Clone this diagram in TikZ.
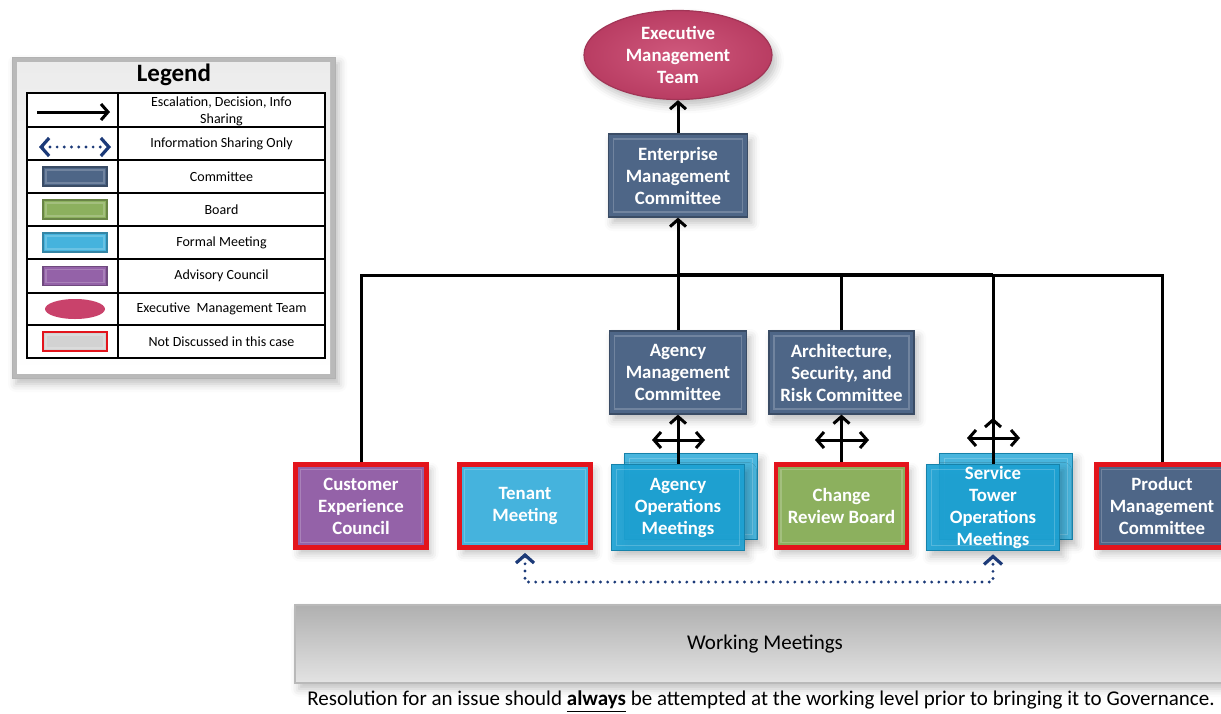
\documentclass[tikz,border=0pt]{standalone}
\usepackage{fontspec}
\setmainfont{Carlito}
\usetikzlibrary{arrows.meta,shapes.geometric,shadows.blur}

\definecolor{cmtblue}{HTML}{4E6687}
\definecolor{boardgreen}{HTML}{8CB05E}
\definecolor{meetcyan}{HTML}{45B3DD}
\definecolor{opscyan}{HTML}{1CA2D4}
\definecolor{advpurple}{HTML}{9462A8}
\definecolor{emtpink}{HTML}{C9426B}
\definecolor{discred}{HTML}{E3141C}
\definecolor{infonavy}{HTML}{1C3A78}

\tikzset{
    softshadow/.style={blur shadow={shadow xshift=2pt, shadow yshift=-3pt,
        shadow blur radius=4pt, shadow opacity=25}},
    bevel/.style={path picture={\draw[white, opacity=0.2, line width=0.8pt]
        ([shift={(#1,-#1)}]path picture bounding box.north west) rectangle
        ([shift={(-#1,#1)}]path picture bounding box.south east);}},
    bevel/.default=2.5pt,
    cmtfill/.style={fill=cmtblue, draw=cmtblue!75!black},
    boardfill/.style={fill=boardgreen, draw=boardgreen!75!black},
    formalfill/.style={fill=meetcyan, draw=meetcyan!75!black},
    advfill/.style={fill=advpurple, draw=advpurple!75!black},
    govbox/.style={rectangle, bevel, softshadow, minimum width=68.5pt, minimum height=41.5pt,
        inner sep=1pt, align=center, text=white, line width=0.6pt,
        font=\fontsize{9.4}{11}\selectfont\bfseries},
    committee/.style={govbox, cmtfill},
    board/.style={govbox, boardfill},
    formal/.style={govbox, formalfill},
    advisory/.style={govbox, advfill},
    opsmeet/.style={govbox, fill=opscyan, draw=opscyan!80!black, minimum width=66.5pt, minimum height=43pt},
    notdisc/.style={draw=discred, line width=2.4pt, minimum width=65.5pt, minimum height=41.5pt},
    swatch/.style={rectangle, bevel=1.5pt, line width=0.6pt, minimum width=32pt, minimum height=9.5pt, inner sep=0pt},
    legtext/.style={font=\fontsize{7}{8.5}\selectfont, align=center},
    link/.style={line width=1.5pt},
    flow/.style={line width=1.5pt, -{Straight Barb[length=3.5pt,width=8pt]}},
    both/.style={line width=1.5pt, {Straight Barb[length=3.5pt,width=8pt]}-{Straight Barb[length=3.5pt,width=8pt]}},
    infoshare/.style={infonavy, line width=1.6pt, line cap=round, dash pattern=on 0pt off 3.6pt,
        {Straight Barb[length=4pt,width=9pt]}-{Straight Barb[length=4pt,width=9pt]}}
}

\begin{document}
\begin{tikzpicture}[x=0.5pt,y=-0.5pt]
    \useasboundingbox (0,0) rectangle (1221,713);
    \clip (0,0) rectangle (1221,713);

    % legend
    \draw[gray!60, fill=gray!55, softshadow] (12,57) rectangle (335,378);
    \fill[top color=gray!15, bottom color=white] (17,62) rectangle (330,373);
    \node[font=\fontsize{12.5}{14}\selectfont\bfseries] (legtitle) at (174,75) {Legend};
    \fill[white] (27,93) rectangle (325,358);
    \draw[line width=0.8pt] (27,93) rectangle (325,358);
    \draw[line width=0.8pt] (118,93) -- (118,358);
    \foreach \y in {127,160,193,226,259,293,325}
        \draw[line width=0.8pt] (27,\y) -- (325,\y);
    \coordinate (lgflowA) at (37,112);
    \coordinate (lgflowB) at (110,112);
    \draw[flow] (lgflowA) -- (lgflowB);
    \coordinate (lginfoA) at (39,147);
    \coordinate (lginfoB) at (111,147);
    \draw[infoshare] (lginfoA) -- (lginfoB);
    \foreach \y/\sty [count=\i] in {176.5/cmtfill,209.5/boardfill,242.5/formalfill,276/advfill}
        \node[swatch, \sty] (swatch\i) at (75,\y) {};
    \node[ellipse, fill=emtpink, minimum width=30pt, minimum height=10pt, inner sep=0pt] (swatch5) at (75,309) {};
    \node[swatch, fill=gray!35, draw=discred, line width=1.4pt] (swatch6) at (75,341.5) {};
    \node[legtext] (legtext1) at (221.5,111.5) {Escalation, Decision, Info\\Sharing};
    \foreach \y/\lab [count=\i from 2] in {143.5/Information Sharing Only,176.5/Committee,209.5/Board,
            242.5/Formal Meeting,276/Advisory Council,309/Executive~ Management Team,341.5/Not Discussed in this case}
        \node[legtext] (legtext\i) at (221.5,\y) {\lab};

    % governance bodies
    \node[ellipse, softshadow, inner color=emtpink!88!white, outer color=emtpink!92!black,
        draw=emtpink!80!black, line width=0.6pt,
        minimum width=94pt, minimum height=44.5pt, inner sep=-3pt, align=center, text=white,
        font=\fontsize{9.4}{11}\selectfont\bfseries] (emt) at (678,55) {Executive\\Management\\Team};
    \node[committee, minimum width=69.5pt] (emc) at (678,175.5) {Enterprise\\Management\\Committee};
    \node[committee] (amc) at (678,372.5) {Agency\\Management\\Committee};
    \node[committee, minimum width=72.5pt] (asrc) at (841.5,372.5) {Architecture,\\Security, and\\Risk Committee};
    \node[advisory, notdisc] (cec) at (361,506) {Customer\\Experience\\Council};
    \node[formal, notdisc] (tenant) at (525,506) {Tenant\\Meeting};
    \node[opsmeet, fill=opscyan!80!white] (aomback) at (691,496.5) {};
    \node[opsmeet, fill opacity=0.92, text opacity=1] (aom) at (678,507.5) {Agency\\Operations\\Meetings};
    \node[board, notdisc] (crb) at (841.5,506) {Change\\Review Board};
    \node[opsmeet, fill=opscyan!80!white] (stomback) at (1006,496.5) {};
    \node[opsmeet, fill opacity=0.92, text opacity=1] (stom) at (993,507.5) {Service\\Tower\\Operations\\Meetings};
    \node[committee, notdisc] (pmc) at (1162,506) {Product\\Management\\Committee};

    \node[rectangle, softshadow, minimum width=470pt, minimum height=39pt, top color=gray!62,
        bottom color=gray!22, draw=gray!55, line width=0.8pt, font=\fontsize{10.5}{12}\selectfont]
        (working) at (765,644) {Working Meetings};
    \node[font=\fontsize{10.5}{12}\selectfont] (caption) at (761,702)
        {Resolution for an issue should \underline{\textbf{always}} be attempted at the working level prior to bringing it to Governance.};

    % reporting lines
    \coordinate (bus) at (678,275);
    \draw[link] (cec.north) |- (bus) -| (pmc.north);
    \draw[link, line width=2.3pt] (bus) -- (bus -| stom.north);
    \draw[flow] (emc.north) -- (emt.south);
    \draw[flow] (amc.north) -- (emc.south);
    \draw[link] (asrc.north) -- (asrc.north |- bus);
    \draw[link] (stom.north) -- (stom.north |- bus);
    \coordinate (stomtip) at (993,418);
    \draw[flow] (stom.north) -- (stomtip);
    \draw[flow] (aom.north) -- (amc.south);
    \draw[flow] (crb.north) -- (asrc.south);
    \coordinate (aomL) at (652,440);
    \coordinate (aomR) at (705,440);
    \coordinate (crbL) at (815,440);
    \coordinate (crbR) at (869,440);
    \coordinate (stomL) at (967,438);
    \coordinate (stomR) at (1020,438);
    \draw[both] (aomL) -- (aomR);
    \draw[both] (crbL) -- (crbR);
    \draw[both] (stomL) -- (stomR);

    \coordinate (infobase) at (525,582);
    \draw[infoshare, shorten <=1.5pt, shorten >=1.5pt] (tenant.south) -- (infobase) -| (stom.south);
\end{tikzpicture}
\end{document}
